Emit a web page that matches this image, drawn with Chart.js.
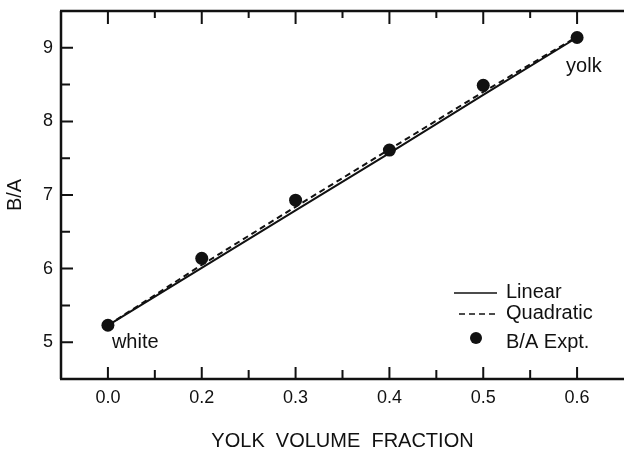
<!DOCTYPE html>
<html>
<head>
<meta charset="utf-8">
<script src="https://cdn.jsdelivr.net/npm/chart.js@4/dist/chart.umd.min.js"></script>
<style>
  html, body { margin: 0; padding: 0; background: #fff; overflow: hidden; }
  canvas { display: block; }
</style>
</head>
<body>
<canvas id="chart" width="624" height="454"></canvas>
<script>
// values
const categories = ['0.0', '0.2', '0.3', '0.4', '0.5', '0.6'];
const exptValues = [5.23, 6.14, 6.93, 7.61, 8.49, 9.14];
const linearValues = [5.23, 6.01, 6.79, 7.57, 8.36, 9.14];
const quadraticValues = [5.23, 6.05, 6.84, 7.62, 8.40, 9.15];
const yMajorTicks = [5, 6, 7, 8, 9];
const legendLabels = ['Linear', 'Quadratic', 'B/A Expt.'];
const pointNotes = ['white', 'yolk'];

const FONT = "'Liberation Sans', Arial, sans-serif";
const INK = '#111';

// frame with inward ticks, point notes and the legend box
const decorations = {
    id: 'decorations',
    afterDraw(chart) {
        const ctx = chart.ctx;
        const area = chart.chartArea;
        const xs = chart.scales.x;
        const ys = chart.scales.y;
        ctx.save();
        ctx.strokeStyle = INK;
        ctx.lineCap = 'butt';

        // axis lines (left, top, bottom)
        ctx.lineWidth = 2.5;
        ctx.beginPath();
        ctx.moveTo(area.left, area.top);
        ctx.lineTo(area.left, area.bottom);
        ctx.moveTo(area.left - 1, area.top);
        ctx.lineTo(chart.width, area.top);
        ctx.moveTo(area.left - 1, area.bottom);
        ctx.lineTo(chart.width, area.bottom);
        ctx.stroke();

        ctx.lineWidth = 2;
        ctx.beginPath();
        for (let i = 0; i < categories.length; i++) {
            const px = xs.getPixelForValue(i);
            ctx.moveTo(px, area.bottom); ctx.lineTo(px, area.bottom - 12);
            ctx.moveTo(px, area.top); ctx.lineTo(px, area.top + 13);
            if (i < categories.length - 1) {
                const mx = xs.getPixelForValue(i + 0.5);
                ctx.moveTo(mx, area.bottom); ctx.lineTo(mx, area.bottom - 9);
                ctx.moveTo(mx, area.top); ctx.lineTo(mx, area.top + 7);
            }
        }
        yMajorTicks.forEach(v => {
            const py = ys.getPixelForValue(v);
            ctx.moveTo(area.left, py); ctx.lineTo(area.left + 12, py);
            if (v < yMajorTicks[yMajorTicks.length - 1]) {
                const my = ys.getPixelForValue(v + 0.5);
                ctx.moveTo(area.left, my); ctx.lineTo(area.left + 9, my);
            }
        });
        ctx.stroke();

        // notes next to the end points
        ctx.fillStyle = INK;
        ctx.font = '20px ' + FONT;
        ctx.textBaseline = 'alphabetic';
        ctx.textAlign = 'left';
        const first = chart.getDatasetMeta(2).data[0];
        const last = chart.getDatasetMeta(2).data[categories.length - 1];
        ctx.fillText(pointNotes[0], first.x + 4, first.y + 23);
        ctx.fillText(pointNotes[1], last.x - 11, last.y + 35);

        // legend
        const lx = 454, tx = 506;
        const rows = [293, 314, 338];
        ctx.lineWidth = 1.5;
        ctx.beginPath();
        ctx.moveTo(lx, rows[0]); ctx.lineTo(lx + 43, rows[0]);
        ctx.stroke();
        ctx.setLineDash([6, 4]);
        ctx.beginPath();
        ctx.moveTo(lx + 5, rows[1]); ctx.lineTo(lx + 43, rows[1]);
        ctx.stroke();
        ctx.setLineDash([]);
        ctx.beginPath();
        ctx.arc(476, rows[2], 6, 0, Math.PI * 2);
        ctx.fill();
        ctx.textBaseline = 'middle';
        legendLabels.forEach((t, i) => ctx.fillText(t, tx, rows[i] + (i === 2 ? 4 : -1)));
        ctx.restore();
    }
};

new Chart(document.getElementById('chart'), {
    type: 'line',
    data: {
        labels: categories,
        datasets: [
            {
                label: legendLabels[0],
                data: linearValues,
                borderColor: INK,
                borderWidth: 2,
                pointRadius: 0,
                tension: 0,
                fill: false
            },
            {
                label: legendLabels[1],
                data: quadraticValues,
                borderColor: INK,
                borderWidth: 2,
                borderDash: [6, 4],
                pointRadius: 0,
                tension: 0,
                fill: false
            },
            {
                label: legendLabels[2],
                data: exptValues,
                showLine: false,
                pointRadius: 6.5,
                pointBackgroundColor: INK,
                pointBorderColor: INK,
                pointBorderWidth: 0
            }
        ]
    },
    options: {
        responsive: false,
        animation: false,
        layout: { autoPadding: false, padding: { top: 11, right: 0, left: 0, bottom: 0 } },
        plugins: {
            legend: { display: false },
            tooltip: { enabled: false }
        },
        scales: {
            x: {
                type: 'category',
                offset: true,
                grid: { display: false, drawTicks: false },
                border: { display: false },
                ticks: {
                    color: INK,
                    padding: 8,
                    maxRotation: 0,
                    font: { family: FONT, size: 18 }
                },
                title: {
                    display: true,
                    text: 'YOLK  VOLUME  FRACTION',
                    color: INK,
                    font: { family: FONT, size: 20 },
                    padding: { top: 0, bottom: 1 }
                },
                afterFit(scale) {
                    scale.height = 75;
                    scale.paddingLeft = 0;
                    scale.paddingRight = 0;
                }
            },
            y: {
                min: 4.5,
                max: 9.5,
                grid: { display: false, drawTicks: false },
                border: { display: false },
                ticks: {
                    stepSize: 0.5,
                    color: INK,
                    padding: 8,
                    font: { family: FONT, size: 18 },
                    callback: v => yMajorTicks.includes(v) ? String(v) : ''
                },
                title: {
                    display: true,
                    text: 'B/A',
                    color: INK,
                    font: { family: FONT, size: 20 },
                    padding: { top: 3, bottom: 0 }
                },
                afterFit(scale) {
                    scale.width = 61;
                    scale.paddingTop = 0;
                    scale.paddingBottom = 0;
                }
            }
        }
    },
    plugins: [decorations]
});
</script>
</body>
</html>
